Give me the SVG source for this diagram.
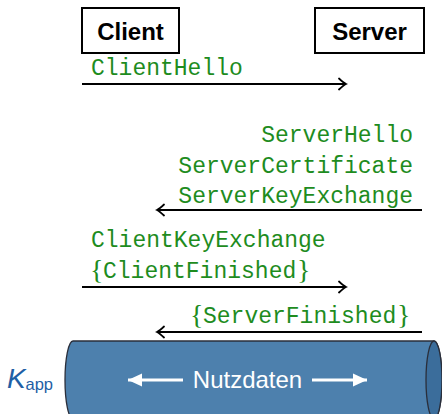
<svg xmlns="http://www.w3.org/2000/svg" width="442" height="414" viewBox="0 0 442 414">
  <style>
    .box { fill: #fff; stroke: #000; stroke-width: 2; }
    .party { font-family: "Liberation Sans", Arial, sans-serif; font-weight: bold; font-size: 24px; fill: #000; text-anchor: middle; }
    .msg { font-family: "Liberation Mono", "DejaVu Sans Mono", monospace; font-size: 23px; fill: #1e8c1e; }
    .brace { font-family: "Liberation Serif", "DejaVu Serif", serif; font-size: 28px; fill: #1e8c1e; }
    .flow { stroke: #000; stroke-width: 2; fill: none; }
    .data { stroke: #fff; stroke-width: 3; fill: none; }
    .label { font-family: "Liberation Sans", Arial, sans-serif; fill: #1f5fa5; }
  </style>
  <defs>
    <marker id="tip" viewBox="-10 -7 12 14" markerWidth="12" markerHeight="14" refX="0" refY="0" orient="auto" markerUnits="userSpaceOnUse">
      <path d="M -7 -5.5 Q -2.5 -1.2 0 0 Q -2.5 1.2 -7 5.5" fill="none" stroke="#000" stroke-width="1.8" stroke-linecap="round"/>
    </marker>
    <marker id="wtip" viewBox="-14 -7 15 14" markerWidth="15" markerHeight="14" refX="0" refY="0" orient="auto" markerUnits="userSpaceOnUse">
      <path d="M 0 0 L -14 -6.5 L -14 6.5 Z" fill="#fff"/>
    </marker>
  </defs>

  <!-- parties -->
  <g id="client">
    <rect class="box" x="82" y="8" width="97" height="45"/>
    <text class="party" x="130.5" y="40">Client</text>
  </g>
  <g id="server">
    <rect class="box" x="315" y="8" width="109" height="45"/>
    <text class="party" x="369.5" y="40">Server</text>
  </g>

  <!-- handshake messages -->
  <g id="client-hello">
    <text class="msg" x="91" y="75">ClientHello</text>
  </g>
  <g id="server-hello">
    <text class="msg" x="413" y="142" text-anchor="end">ServerHello</text>
    <text class="msg" x="413" y="172.5" text-anchor="end">ServerCertificate</text>
    <text class="msg" x="413" y="202.5" text-anchor="end">ServerKeyExchange</text>
  </g>
  <g id="client-finished">
    <text class="msg" x="91" y="247">ClientKeyExchange</text>
    <text class="brace" x="90" y="278.5">{</text>
    <text class="msg" x="103" y="277.5">ClientFinished</text>
    <text class="brace" x="297" y="278.5">}</text>
  </g>
  <g id="server-finished">
    <text class="brace" x="190" y="324">{</text>
    <text class="msg" x="203" y="323">ServerFinished</text>
    <text class="brace" x="397" y="324">}</text>
  </g>

  <!-- connectors -->
  <g id="connectors">
    <line class="flow" x1="82" y1="84" x2="346" y2="84" marker-end="url(#tip)"/>
    <line class="flow" x1="422" y1="210" x2="157" y2="210" marker-end="url(#tip)"/>
    <line class="flow" x1="82" y1="287" x2="346" y2="287" marker-end="url(#tip)"/>
    <line class="flow" x1="422" y1="332" x2="157" y2="332" marker-end="url(#tip)"/>
  </g>

  <!-- application data channel -->
  <g id="channel">
    <path d="M 73 341 L 434 341 A 8 39 0 0 1 434 419 L 73 419 A 8 39 0 0 1 73 341 Z" fill="#4d80ad" stroke="#2a2e3a" stroke-width="1.3"/>
    <ellipse cx="434" cy="380" rx="8" ry="39" fill="#3b6d9b" stroke="#2a2e3a" stroke-width="1.3"/>
    <line class="data" x1="183" y1="380" x2="128" y2="380" marker-end="url(#wtip)"/>
    <line class="data" x1="312" y1="380" x2="367" y2="380" marker-end="url(#wtip)"/>
    <text x="247.5" y="388" font-family="'Liberation Sans', Arial, sans-serif" font-size="24" fill="#fff" text-anchor="middle">Nutzdaten</text>
  </g>

  <g id="key-label">
    <text class="label" x="7" y="388" font-size="28" font-style="italic">K</text>
    <text class="label" x="25.5" y="390" font-size="16.5">app</text>
  </g>
</svg>
